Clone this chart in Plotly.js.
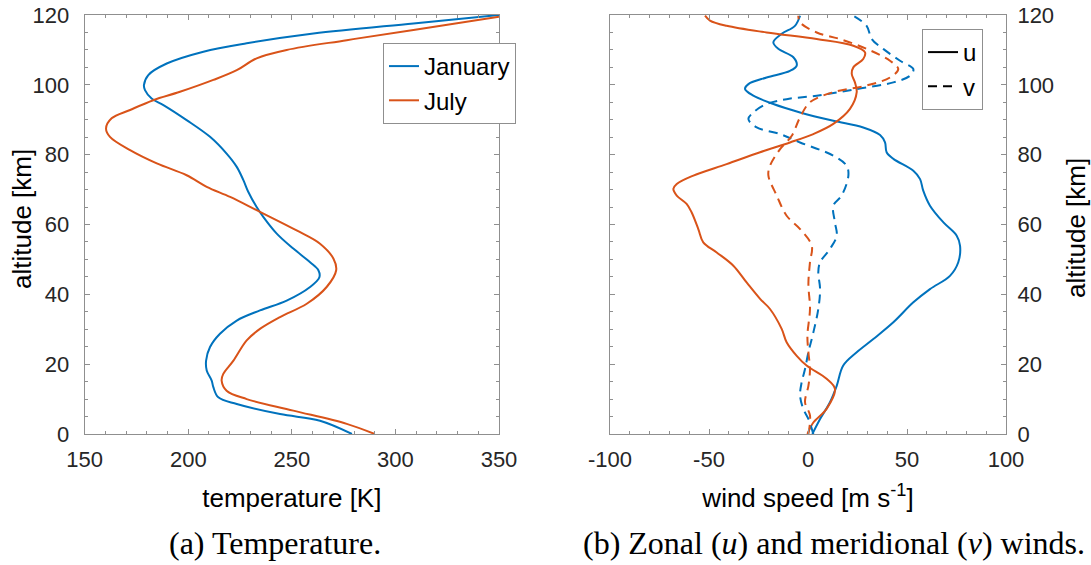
<!DOCTYPE html>
<html>
<head>
<meta charset="utf-8">
<script src="https://cdn.plot.ly/plotly-3.0.1.min.js"></script>
<style>html,body{margin:0;padding:0;background:#fff}</style>
</head>
<body>
<div id="chart" style="width:1091px;height:565px"></div>
<script>
// Temperature profiles: altitude [km] and temperature [K]
const janTempAlt = [0,3.8,5.7,8.6,10.5,13.4,15.3,18.2,21.0,24.9,28.7,32.5,35.4,38.2,42.1,44.9,46.9,49.2,53.1,57.4,62.2,65.0,69.3,72.7,76.5,80.3,85.1,89.9,94.2,96.1,98.5,99.9,102.8,106.1,109.5,111.9,114.7,117.6,120];
const janTemp    = [279,263.6,244.3,223.4,214.5,212.1,211.3,208.9,208.6,210.5,215.3,223.4,234.6,247.5,258.8,263.3,262.8,258.8,250.7,242.7,236.2,233.0,229.0,226.6,223.4,218.5,210.5,199.2,188.0,182.3,179.1,178.6,180.7,189.6,207.3,228.2,260.4,308.7,350];
const julTempAlt = [0,2.9,6.7,10.0,12.4,15.3,17.2,21.0,26.8,30.1,33.5,37.3,42.1,46.9,50.2,54.5,58.3,64.1,67.9,70.8,74.1,77.5,81.3,85.1,87.5,90.4,92.8,95.6,98.0,101.4,104.2,107.6,110.0,112.8,115.7,119.5];
const julTemp    = [290,276.5,250.7,228.2,218.5,216.1,216.9,221.8,228.2,234.6,244.3,257.2,266.8,271.4,270.1,263.6,252.3,233.0,220.2,208.9,199.2,184.8,171.9,162.2,160.3,163.0,171.9,183.1,196.0,212.1,223.4,233.0,247.5,276.5,308.7,350];

// Zonal wind u [m/s]
const janUAlt = [0,4.3,9.1,13.8,19.6,23.4,27.2,32.0,37.7,41.5,45.3,49.2,53.9,56.8,60.6,65.4,69.7,73.0,75.4,78.8,80.7,83.5,85.6,87.8,89.7,92.1,94.5,96.9,98.8,100.2,102.1,104.0,105.5,107.9,110.3,112.2,114.6,116.9,119.8];
const janU    = [2.2,6.1,11.1,14.5,17.8,24.6,33.0,43.1,53.2,61.6,71.7,75.9,76.8,75.1,68.4,61.6,58.2,56.6,53.2,43.1,39.7,38.9,36.4,27.9,12.8,-4.0,-17.5,-27.6,-31.8,-30.1,-20.9,-9.1,-5.7,-7.4,-15.0,-17.5,-13.3,-6.6,-4.0];
const julUAlt = [0,3.3,7.2,12.9,15.8,19.6,22.4,26.3,30.1,35.8,38.7,43.4,48.2,52.0,54.9,58.7,63.5,65.9,68.3,70.2,71.6,74.0,77.3,80.7,83.5,85.9,88.8,93.1,97.9,100.7,103.1,105.0,107.4,109.3,111.2,113.1,115.0,116.9,118.4,119.8];
const julU    = [-0.3,2.7,9.4,13.6,9.4,-0.7,-5.7,-10.8,-13.3,-19.2,-24.2,-31.0,-37.7,-46.1,-52.9,-55.4,-58.8,-61.3,-66.3,-68.0,-66.3,-57.9,-41.1,-24.2,-9.1,2.7,12.8,21.2,24.6,23.7,22.1,22.9,27.9,28.8,22.9,4.4,-20.9,-41.1,-49.5,-52.0];

// Meridional wind v [m/s]
const janVAlt = [0,4.3,7.2,11.0,14.8,18.6,23.4,29.1,35.8,41.5,46.3,49.2,53.0,56.8,60.6,65.4,68.3,74.0,76.8,79.7,83.5,85.9,87.8,90.2,92.1,94.5,95.9,96.9,98.8,100.7,102.6,104.5,106.9,110.3,113.1,116.9,119.8];
const janV    = [2.7,0.2,-2.4,-4.0,-3.2,-1.5,0.2,2.7,5.2,6.1,5.2,6.1,11.1,14.5,13.6,12.8,17.0,20.4,19.5,12.8,-4.0,-14.1,-25.9,-30.1,-27.6,-20.9,-10.8,4.4,24.6,43.1,51.5,53.2,46.5,38.0,32.2,29.6,22.9];
const julVAlt = [0,5.3,9.1,13.8,18.6,23.4,28.2,35.8,43.0,49.2,53.9,58.7,62.5,68.3,74.0,76.8,81.6,85.4,90.7,95.0,97.9,99.8,102.1,104.5,106.9,110.3,113.1,115.0,117.9,119.8];
const julV    = [0.2,1.0,-1.5,0.2,1.0,0.2,-0.3,1.0,0.2,1.0,1.9,-4.0,-10.8,-15.8,-20.0,-19.2,-14.1,-8.2,-4.0,1.0,12.8,29.6,41.4,45.6,41.4,29.6,16.2,4.4,-4.0,-4.9];

// Tick positions and labels
const tempTicks = [150, 200, 250, 300, 350];
const windTicks = [-100, -50, 0, 50, 100];
const windTickText = ['-100', '-50', '0', '50', '100'];
const altTicks = [0, 20, 40, 60, 80, 100, 120];

const BLUE = '#0072BD';
const ORANGE = '#D95319';
const DASH = '9px,6px';
const W = 1091, H = 565;

function line(x, y, color, xa, ya, extra) {
  return Object.assign({
    type: 'scatter', mode: 'lines', x: x, y: y,
    xaxis: xa, yaxis: ya,
    line: {color: color, width: 2, shape: 'spline', smoothing: 1},
    hoverinfo: 'x+y'
  }, extra || {});
}

const traces = [
  line(janTemp, janTempAlt, BLUE, 'x', 'y', {name: 'January', legend: 'legend'}),
  line(julTemp, julTempAlt, ORANGE, 'x', 'y', {name: 'July', legend: 'legend'}),
  line(janU, janUAlt, BLUE, 'x2', 'y2', {showlegend: false}),
  line(julU, julUAlt, ORANGE, 'x2', 'y2', {showlegend: false}),
  line(janV, janVAlt, BLUE, 'x2', 'y2', {showlegend: false}),
  line(julV, julVAlt, ORANGE, 'x2', 'y2', {showlegend: false}),
  // key entries for the line styles of the wind panel
  {type: 'scatter', mode: 'lines', x: [null], y: [null], xaxis: 'x2', yaxis: 'y2',
   name: 'u', legend: 'legend2', line: {color: '#000', width: 2}},
  {type: 'scatter', mode: 'lines', x: [null], y: [null], xaxis: 'x2', yaxis: 'y2',
   name: 'v', legend: 'legend2', line: {color: '#000', width: 2, dash: DASH}}
];
// dashed meridional wind lines
traces[4].line.dash = DASH;
traces[5].line.dash = DASH;

const SANS = 'Liberation Sans, Arial, sans-serif';
const SERIF = 'Liberation Serif, Times New Roman, serif';
const tickFont = {family: SANS, size: 22, color: '#262626'};
const titleFont = {family: SANS, size: 26, color: '#000'};
const legendFont = {family: SANS, size: 24, color: '#000'};
const captionFont = {family: SERIF, size: 32, color: '#000'};
const AXC = '#8f8f8f';

function axis(extra) {
  return Object.assign({
    showline: true, linecolor: AXC, linewidth: 1, mirror: 'ticks',
    ticks: 'inside', ticklen: 5, tickcolor: AXC, tickwidth: 1,
    showgrid: false, zeroline: false, tickfont: tickFont,
    automargin: false, ticklabelstandoff: 6, fixedrange: true
  }, extra);
}

const y0 = 1 - 434 / H, y1 = 1 - 15 / H;

function note(px, py, text, font, angle) {
  return {xref: 'paper', yref: 'paper', x: px / W, y: 1 - py / H,
    xanchor: 'center', yanchor: 'middle', showarrow: false,
    text: text, font: font, textangle: angle || 0};
}

const layout = {
  width: W, height: H,
  margin: {l: 0, r: 0, t: 0, b: 0},
  paper_bgcolor: '#fff', plot_bgcolor: '#fff',
  showlegend: true,
  xaxis: axis({domain: [84.7 / W, 499 / W], anchor: 'y', range: [150, 350],
    tickvals: tempTicks,
    minor: {dtick: 10, tick0: 150, ticks: 'inside', ticklen: 3, tickcolor: AXC},
    title: {text: 'temperature [K]', font: titleFont, standoff: 17}}),
  yaxis: axis({domain: [y0, y1], anchor: 'x', range: [0, 120],
    tickvals: altTicks,
    minor: {dtick: 5, tick0: 0, ticks: 'inside', ticklen: 3, tickcolor: AXC},
    ticklabelstandoff: 10}),
  xaxis2: axis({domain: [610 / W, 1006 / W], anchor: 'y2', range: [-100, 100],
    tickvals: windTicks, ticktext: windTickText,
    minor: {dtick: 10, tick0: -100, ticks: 'inside', ticklen: 3, tickcolor: AXC},
    title: {text: 'wind speed [m s<sup>-1</sup>]', font: titleFont, standoff: 17}}),
  yaxis2: axis({domain: [y0, y1], anchor: 'x2', side: 'right', range: [0, 120],
    tickvals: altTicks,
    minor: {dtick: 5, tick0: 0, ticks: 'inside', ticklen: 3, tickcolor: AXC},
    ticklabelstandoff: 6}),
  legend: {x: 383 / W, y: 1 - 43 / H, xanchor: 'left', yanchor: 'top',
    bgcolor: '#fff', bordercolor: AXC, borderwidth: 1,
    font: legendFont, itemwidth: 30, tracegroupgap: 0},
  legend2: {x: 922 / W, y: 1 - 29 / H, xanchor: 'left', yanchor: 'top',
    bgcolor: '#fff', bordercolor: AXC, borderwidth: 1,
    font: legendFont, itemwidth: 30},
  annotations: [
    // altitude axis titles, both reading bottom to top
    note(22, 219, 'altitude [km]', titleFont, -90),
    note(1076, 228, 'altitude [km]', titleFont, -90),
    // panel captions
    note(275, 543, '(a) Temperature.', captionFont),
    note(834, 543, '(b) Zonal (<i>u</i>) and meridional (<i>v</i>) winds.', captionFont)
  ]
};

Plotly.newPlot('chart', traces, layout, {displayModeBar: false, staticPlot: true});
</script>
</body>
</html>
